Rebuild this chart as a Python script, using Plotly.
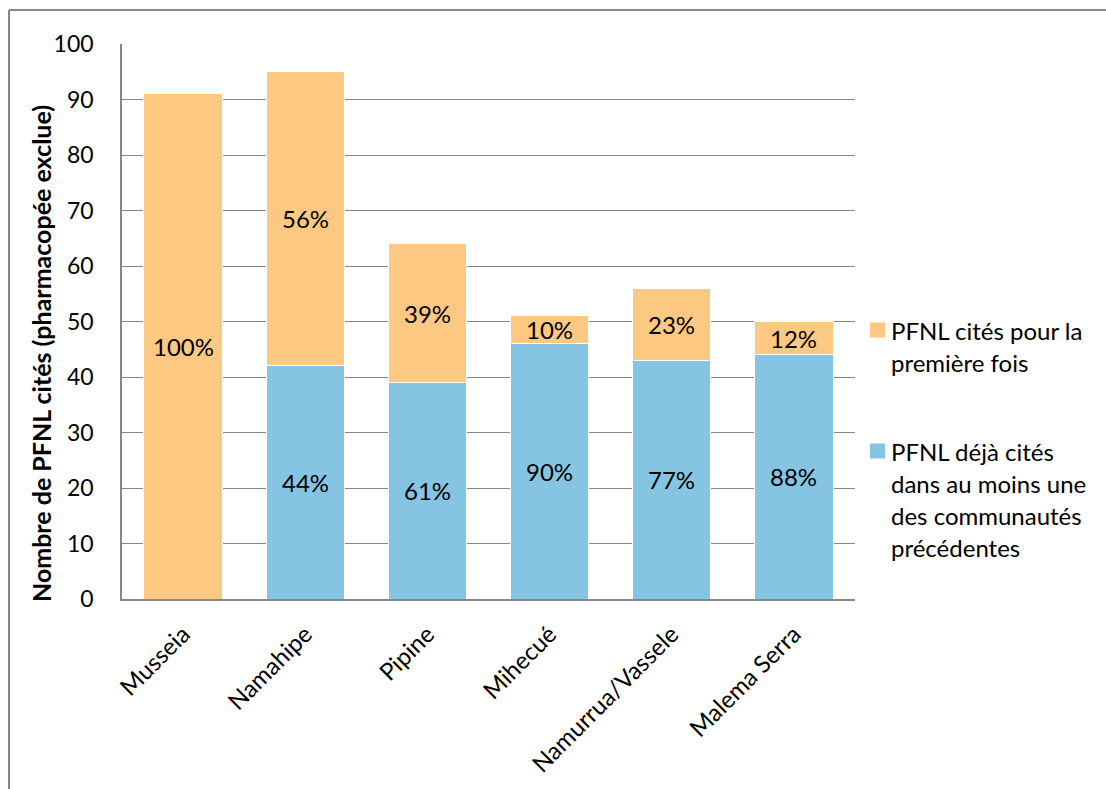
import plotly.graph_objects as go

# Communities surveyed, in visiting order
communities = ["Musseia", "Namahipe", "Pipine", "Mihecué", "Namurrua/Vassele", "Malema Serra"]

# Number of NTFP cited (pharmacopoeia excluded)
already_cited = [0, 42, 39, 46, 43, 44]     # already cited in a previous community
first_cited = [91, 53, 25, 5, 13, 6]        # cited for the first time

series_names = ["PFNL déjà cités dans au moins une des communautés précédentes",
                "PFNL cités pour la première fois"]
legend_lines = {
    "first": ["PFNL cités pour la", "première fois"],
    "already": ["PFNL déjà cités", "dans au moins une", "des communautés", "précédentes"],
}
y_title = "Nombre de PFNL cités (pharmacopée exclue)"

y_ticks = list(range(0, 101, 10))

BLUE = "#86C4E4"
ORANGE = "#FDC982"
GRID = "#878787"
FONT = "Lato"

W, H = 1106, 789
L, R, T, B = 122, 251, 44, 190
pw, ph = W - L - R, H - T - B


def px_x(x):
    return (x - L) / pw


def px_y(y):
    return (H - B - y) / ph


fig = go.Figure()
fig.add_trace(go.Bar(x=communities, y=already_cited, name=series_names[0],
                     marker=dict(color=BLUE, line=dict(color="white", width=1))))
fig.add_trace(go.Bar(x=communities, y=first_cited, name=series_names[1],
                     marker=dict(color=ORANGE, line=dict(color="white", width=1))))

# Percentage labels centred in each segment
annotations = []
label_font = dict(family=FONT, size=24, color="black")
for c, a, f in zip(communities, already_cited, first_cited):
    total = a + f
    if a > 0:
        annotations.append(dict(x=c, y=a / 2, xref="x", yref="y",
                                text=f"{round(100 * a / total)}%", showarrow=False,
                                font=label_font))
    if f > 0:
        annotations.append(dict(x=c, y=a + f / 2, xref="x", yref="y",
                                text=f"{round(100 * f / total)}%", showarrow=False,
                                font=label_font))

# Vertical axis title
annotations.append(dict(x=px_x(41), y=px_y(354), xref="paper", yref="paper",
                        text=f"<b>{y_title}</b>", showarrow=False, textangle=-90,
                        xanchor="center", yanchor="middle",
                        font=dict(family=FONT, size=25, color="black")))

# Hand-placed legend to the right of the plot
shapes = []
legend_spec = [("first", ORANGE, 330), ("already", BLUE, 451)]
for key, color, y0 in legend_spec:
    shapes.append(dict(type="rect", xref="paper", yref="paper",
                       x0=px_x(870), x1=px_x(885), y0=px_y(y0 - 7.5), y1=px_y(y0 + 7.5),
                       fillcolor=color, line=dict(width=0)))
    for i, line in enumerate(legend_lines[key]):
        annotations.append(dict(x=px_x(889), y=px_y(y0 + i * 32.3), xref="paper", yref="paper",
                                text=line, showarrow=False, xanchor="left", yanchor="middle",
                                font=dict(family=FONT, size=24, color="black")))

# Outer chart frame (top and left edges visible)
shapes.append(dict(type="line", xref="paper", yref="paper",
                   x0=px_x(9), x1=px_x(W + 5), y0=px_y(10), y1=px_y(10),
                   line=dict(color=GRID, width=2)))
shapes.append(dict(type="line", xref="paper", yref="paper",
                   x0=px_x(9), x1=px_x(9), y0=px_y(10), y1=px_y(H + 5),
                   line=dict(color=GRID, width=2)))

fig.update_layout(
    barmode="stack",
    bargap=0.36,
    width=W, height=H,
    margin=dict(l=L, r=R, t=T, b=B),
    paper_bgcolor="white",
    plot_bgcolor="white",
    showlegend=False,
    font=dict(family=FONT, size=23, color="black"),
    annotations=annotations,
    shapes=shapes,
)
fig.update_xaxes(
    tickangle=-45,
    tickfont=dict(family=FONT, size=24, color="black"),
    showline=True, linecolor=GRID, linewidth=1.5,
    showgrid=False, ticks="", ticklabelstandoff=10,
)
fig.update_yaxes(
    range=[0, 100],
    tickvals=y_ticks,
    tickfont=dict(family=FONT, size=23, color="black"),
    showline=True, linecolor=GRID, linewidth=1.5,
    showgrid=True, gridcolor=GRID, gridwidth=1,
    ticks="", ticklabelstandoff=22,
    zeroline=False,
)

fig.write_html("out.html")
